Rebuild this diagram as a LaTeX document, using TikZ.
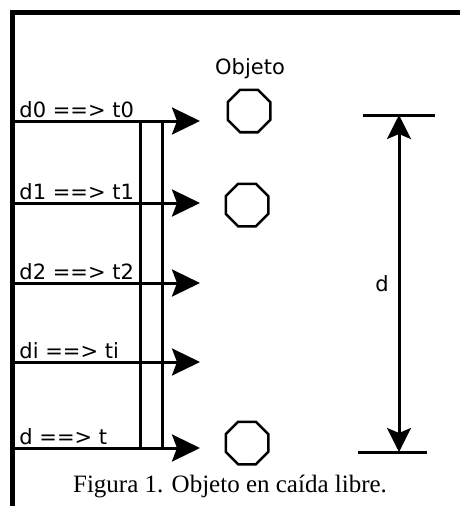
\documentclass[tikz,border=0pt]{standalone}
\usepackage{fontspec}
\setmainfont{Liberation Serif}
\newfontfamily\labelfont{DejaVu Sans}
\usetikzlibrary{arrows.meta,shapes.geometric}

\tikzset{
  fall/.style={line width=3pt, -{Stealth[length=28pt,width=27pt,inset=5pt]}},
  tag/.style={font=\labelfont\fontsize{21}{23}\selectfont, inner sep=0pt},
  ball/.style={regular polygon, regular polygon sides=8, draw, line width=2.5pt,
    minimum size=46pt, inner sep=0pt},
  measure/.style={line width=3pt,
    {Stealth[length=24pt,width=24pt,inset=5pt]}-{Stealth[length=24pt,width=24pt,inset=5pt]}}
}

\begin{document}
\begin{tikzpicture}[x=1pt, y=-1pt, line width=3pt]
  \useasboundingbox (0,0) rectangle (460,506);

  % frame
  \draw[line width=5pt] (460,12.5) -- (12.5,12.5) -- (12.5,506);

  % time marks
  \foreach \y/\lab/\nm in {121/d0 ==> t0/a0, 203/d1 ==> t1/a1, 283/d2 ==> t2/a2,
                           362/di ==> ti/ai, 448/d ==> t/an} {
    \coordinate (\nm-start) at (15,\y);
    \coordinate (\nm-end) at (200,\y);
    \draw[fall] (\nm-start) -- (\nm-end);
    \node[tag, anchor=base west] (\nm-tag) at (18,\y-4) {\lab};
  }

  % rails
  \coordinate (railA-top) at (140,121);
  \coordinate (railA-bot) at (140,448);
  \coordinate (railB-top) at (162,121);
  \coordinate (railB-bot) at (162,448);
  \draw (railA-top) -- (railA-bot);
  \draw (railB-top) -- (railB-bot);

  % object
  \node[tag] (objlabel) at (250,69) {Objeto};
  \node[ball] (ball0) at (249,111) {};
  \node[ball] (ball1) at (247,205) {};
  \node[ball] (ballt) at (247,443) {};

  % distance
  \coordinate (dim-top) at (399,115);
  \coordinate (dim-bot) at (399,452);
  \draw (363,115) -- (435,115);
  \draw (358,452) -- (427,452);
  \draw[measure] (dim-top) -- (dim-bot);
  \node[tag] (dlab) at (382,284) {d};

  \node[font=\fontsize{25}{27}\selectfont, inner sep=0pt] (caption) at (230,487)
    {Figura 1. Objeto en caída libre.};

\end{tikzpicture}
\end{document}
